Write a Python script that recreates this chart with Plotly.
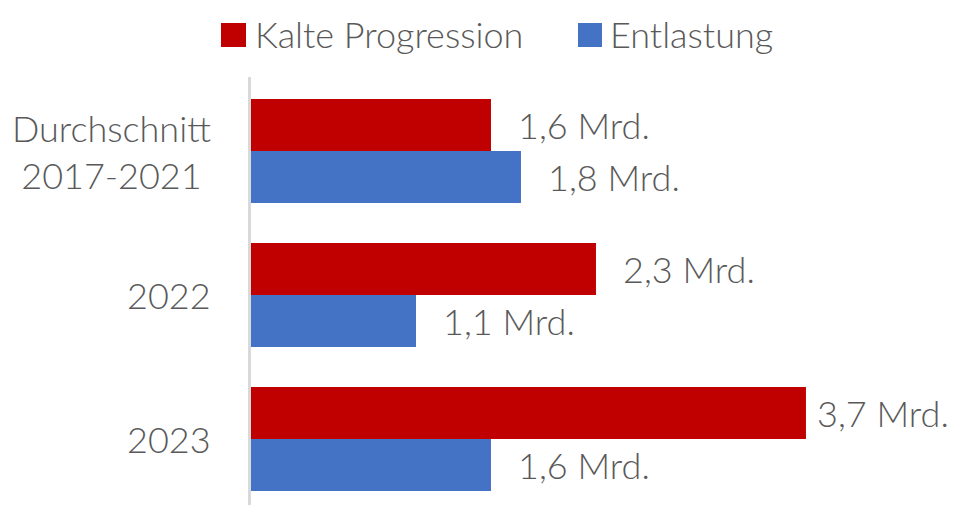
import plotly.graph_objects as go

categories = ["Durchschnitt<br>2017-2021", "2022", "2023"]
series_names = ["Kalte Progression", "Entlastung"]
kalte = [1.6, 2.3, 3.7]
entlastung = [1.8, 1.1, 1.6]
kalte_labels = ["1,6 Mrd.", "2,3 Mrd.", "3,7 Mrd."]
entl_labels = ["1,8 Mrd.", "1,1 Mrd.", "1,6 Mrd."]

RED = "#C00000"
BLUE = "#4472C4"
TXT = "#595959"
FONT = "Lato"
FS = 36
fnt = dict(family=FONT, size=FS, color=TXT, weight=300)
XMAX = 4.667


def label_shift(v):
    # labels near the right edge are pulled closer to the bar end
    return 9 if v > 3.5 else 25


fig = go.Figure()
fig.add_trace(go.Bar(y=categories, x=kalte, orientation="h", name=series_names[0],
                     marker=dict(color=RED, line=dict(width=0)), showlegend=False))
fig.add_trace(go.Bar(y=categories, x=entlastung, orientation="h", name=series_names[1],
                     marker=dict(color=BLUE, line=dict(width=0)), showlegend=False))

annotations = []
shapes = []
# value labels and category labels (category index i on the category axis)
for i, c in enumerate(categories):
    annotations.append(dict(x=kalte[i], y=i, yshift=26, xref="x", yref="y", text=kalte_labels[i],
                            showarrow=False, xanchor="left", xshift=label_shift(kalte[i]), font=fnt))
    annotations.append(dict(x=entlastung[i], y=i, yshift=-26, xref="x", yref="y", text=entl_labels[i],
                            showarrow=False, xanchor="left", xshift=label_shift(entlastung[i]), font=fnt))
    annotations.append(dict(x=0, y=i, xref="paper", yref="y", text=c, showarrow=False,
                            xanchor="right", xshift=-38, align="center", font=fnt))

# manual legend (plot area: x 251..951, y 77..505)
def px(xp):
    return (xp - 251) / 700.0

def py(yp):
    return (505 - yp) / 428.0

leg = [(series_names[0], RED, 221, 246, 253), (series_names[1], BLUE, 578, 602, 608)]
for name, col, sx0, sx1, tx in leg:
    shapes.append(dict(type="rect", xref="paper", yref="paper", x0=px(sx0), x1=px(sx1),
                       y0=py(47), y1=py(23), fillcolor=col, line=dict(width=0)))
    annotations.append(dict(x=px(tx), y=py(34), xref="paper", yref="paper", text=name,
                            showarrow=False, xanchor="left", yanchor="middle", font=fnt))

fig.update_layout(
    width=953, height=505,
    margin=dict(l=251, r=2, t=77, b=0),
    paper_bgcolor="white", plot_bgcolor="white",
    barmode="group", bargap=0.278, bargroupgap=0,
    font=fnt,
    showlegend=False,
    annotations=annotations,
    shapes=shapes,
)
fig.update_xaxes(range=[0, XMAX], visible=False, showgrid=False, zeroline=False)
fig.update_yaxes(type="category", range=[2.458, -0.514], showgrid=False, zeroline=False,
                 showline=True, linecolor="#D9D9D9", linewidth=3, ticks="",
                 showticklabels=False)

fig.write_html("out.html", config={"displayModeBar": False},
               post_script="document.body.style.margin='0';document.body.style.overflow='hidden';")
